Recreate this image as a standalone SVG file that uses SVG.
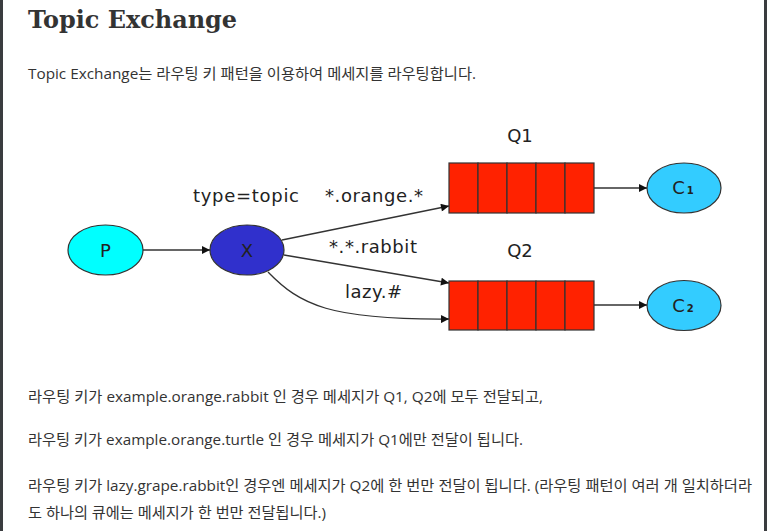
<svg xmlns="http://www.w3.org/2000/svg" width="767" height="531" viewBox="0 0 767 531">
<defs>
<style>
.title{font-family:"DejaVu Serif","Liberation Serif",serif;font-weight:bold;font-size:24px;fill:#333}
.body{font-family:"Open Sans","Noto Sans CJK KR",sans-serif;font-size:15.3px;fill:#333}
.lbl{font-family:"DejaVu Sans",sans-serif;font-size:18px;fill:#222}
.edge{fill:none;stroke:#333;stroke-width:1.3}
.nd{stroke:#333;stroke-width:1.2}
.cell{fill:#ff2200;stroke:#333;stroke-width:1.2}
</style>
<marker id="ah" viewBox="0 0 10 10" refX="10" refY="5" markerWidth="10" markerHeight="8" markerUnits="userSpaceOnUse" orient="auto">
<path d="M0,0 L10,5 L0,10 z" fill="#111"/>
</marker>
</defs>
<rect x="0" y="0" width="767" height="531" fill="#fff"/>
<rect x="0" y="0" width="3" height="531" fill="#3a3c3f"/>
<rect x="764" y="0" width="3" height="531" fill="#3a3c3f"/>
<text class="title" x="28" y="28" textLength="209" lengthAdjust="spacingAndGlyphs">Topic Exchange</text>
<text class="body" x="28" y="79" textLength="448" lengthAdjust="spacingAndGlyphs">Topic Exchange는 라우팅 키 패턴을 이용하여 메세지를 라우팅합니다.</text>

<g id="connectors">
<line class="edge" x1="143" y1="250" x2="210" y2="250" marker-end="url(#ah)"/>
<line class="edge" x1="282" y1="240" x2="449" y2="206" marker-end="url(#ah)"/>
<line class="edge" x1="284" y1="255" x2="449" y2="283" marker-end="url(#ah)"/>
<path class="edge" d="M268,272 C300,305 330,320 449,319" marker-end="url(#ah)"/>
<line class="edge" x1="594" y1="188" x2="647" y2="188" marker-end="url(#ah)"/>
<line class="edge" x1="594" y1="305" x2="647" y2="305" marker-end="url(#ah)"/>
<text class="lbl" x="193" y="202" textLength="106">type=topic</text>
<text class="lbl" x="325" y="202" textLength="98">*.orange.*</text>
<text class="lbl" x="329" y="253" textLength="88">*.*.rabbit</text>
<text class="lbl" x="345" y="298" textLength="57">lazy.#</text>
</g>

<g id="P">
<ellipse class="nd" cx="105.5" cy="250" rx="37.5" ry="25" fill="#00ffff"/>
<text class="lbl" x="105.5" y="256.5" text-anchor="middle">P</text>
</g>
<g id="X">
<ellipse class="nd" cx="247" cy="250" rx="37" ry="25" fill="#3030cc"/>
<text class="lbl" x="247" y="256.5" text-anchor="middle">X</text>
</g>
<g id="Q1">
<rect class="cell" x="449" y="163" width="29" height="50"/>
<rect class="cell" x="478" y="163" width="29" height="50"/>
<rect class="cell" x="507" y="163" width="29" height="50"/>
<rect class="cell" x="536" y="163" width="29" height="50"/>
<rect class="cell" x="565" y="163" width="29" height="50"/>
<text class="lbl" x="520" y="142" text-anchor="middle">Q1</text>
</g>
<g id="Q2">
<rect class="cell" x="449" y="281" width="29" height="49"/>
<rect class="cell" x="478" y="281" width="29" height="49"/>
<rect class="cell" x="507" y="281" width="29" height="49"/>
<rect class="cell" x="536" y="281" width="29" height="49"/>
<rect class="cell" x="565" y="281" width="29" height="49"/>
<text class="lbl" x="520" y="257" text-anchor="middle">Q2</text>
</g>
<g id="C1">
<ellipse class="nd" cx="684" cy="188" rx="37" ry="25" fill="#33ccff"/>
<text class="lbl" x="683" y="194" text-anchor="middle">C<tspan font-size="10" font-weight="bold" dx="2">1</tspan></text>
</g>
<g id="C2">
<ellipse class="nd" cx="684" cy="305.5" rx="37" ry="25" fill="#33ccff"/>
<text class="lbl" x="683" y="311.5" text-anchor="middle">C<tspan font-size="10" font-weight="bold" dx="2">2</tspan></text>
</g>

<text class="body" x="28" y="402" textLength="515" lengthAdjust="spacingAndGlyphs">라우팅 키가 example.orange.rabbit 인 경우 메세지가 Q1, Q2에 모두 전달되고,</text>
<text class="body" x="28" y="445" textLength="495" lengthAdjust="spacingAndGlyphs">라우팅 키가 example.orange.turtle 인 경우 메세지가 Q1에만 전달이 됩니다.</text>
<text class="body" x="28" y="491" textLength="724" lengthAdjust="spacingAndGlyphs">라우팅 키가 lazy.grape.rabbit인 경우엔 메세지가 Q2에 한 번만 전달이 됩니다. (라우팅 패턴이 여러 개 일치하더라</text>
<text class="body" x="28" y="518" textLength="298" lengthAdjust="spacingAndGlyphs">도 하나의 큐에는 메세지가 한 번만 전달됩니다.)</text>
</svg>
